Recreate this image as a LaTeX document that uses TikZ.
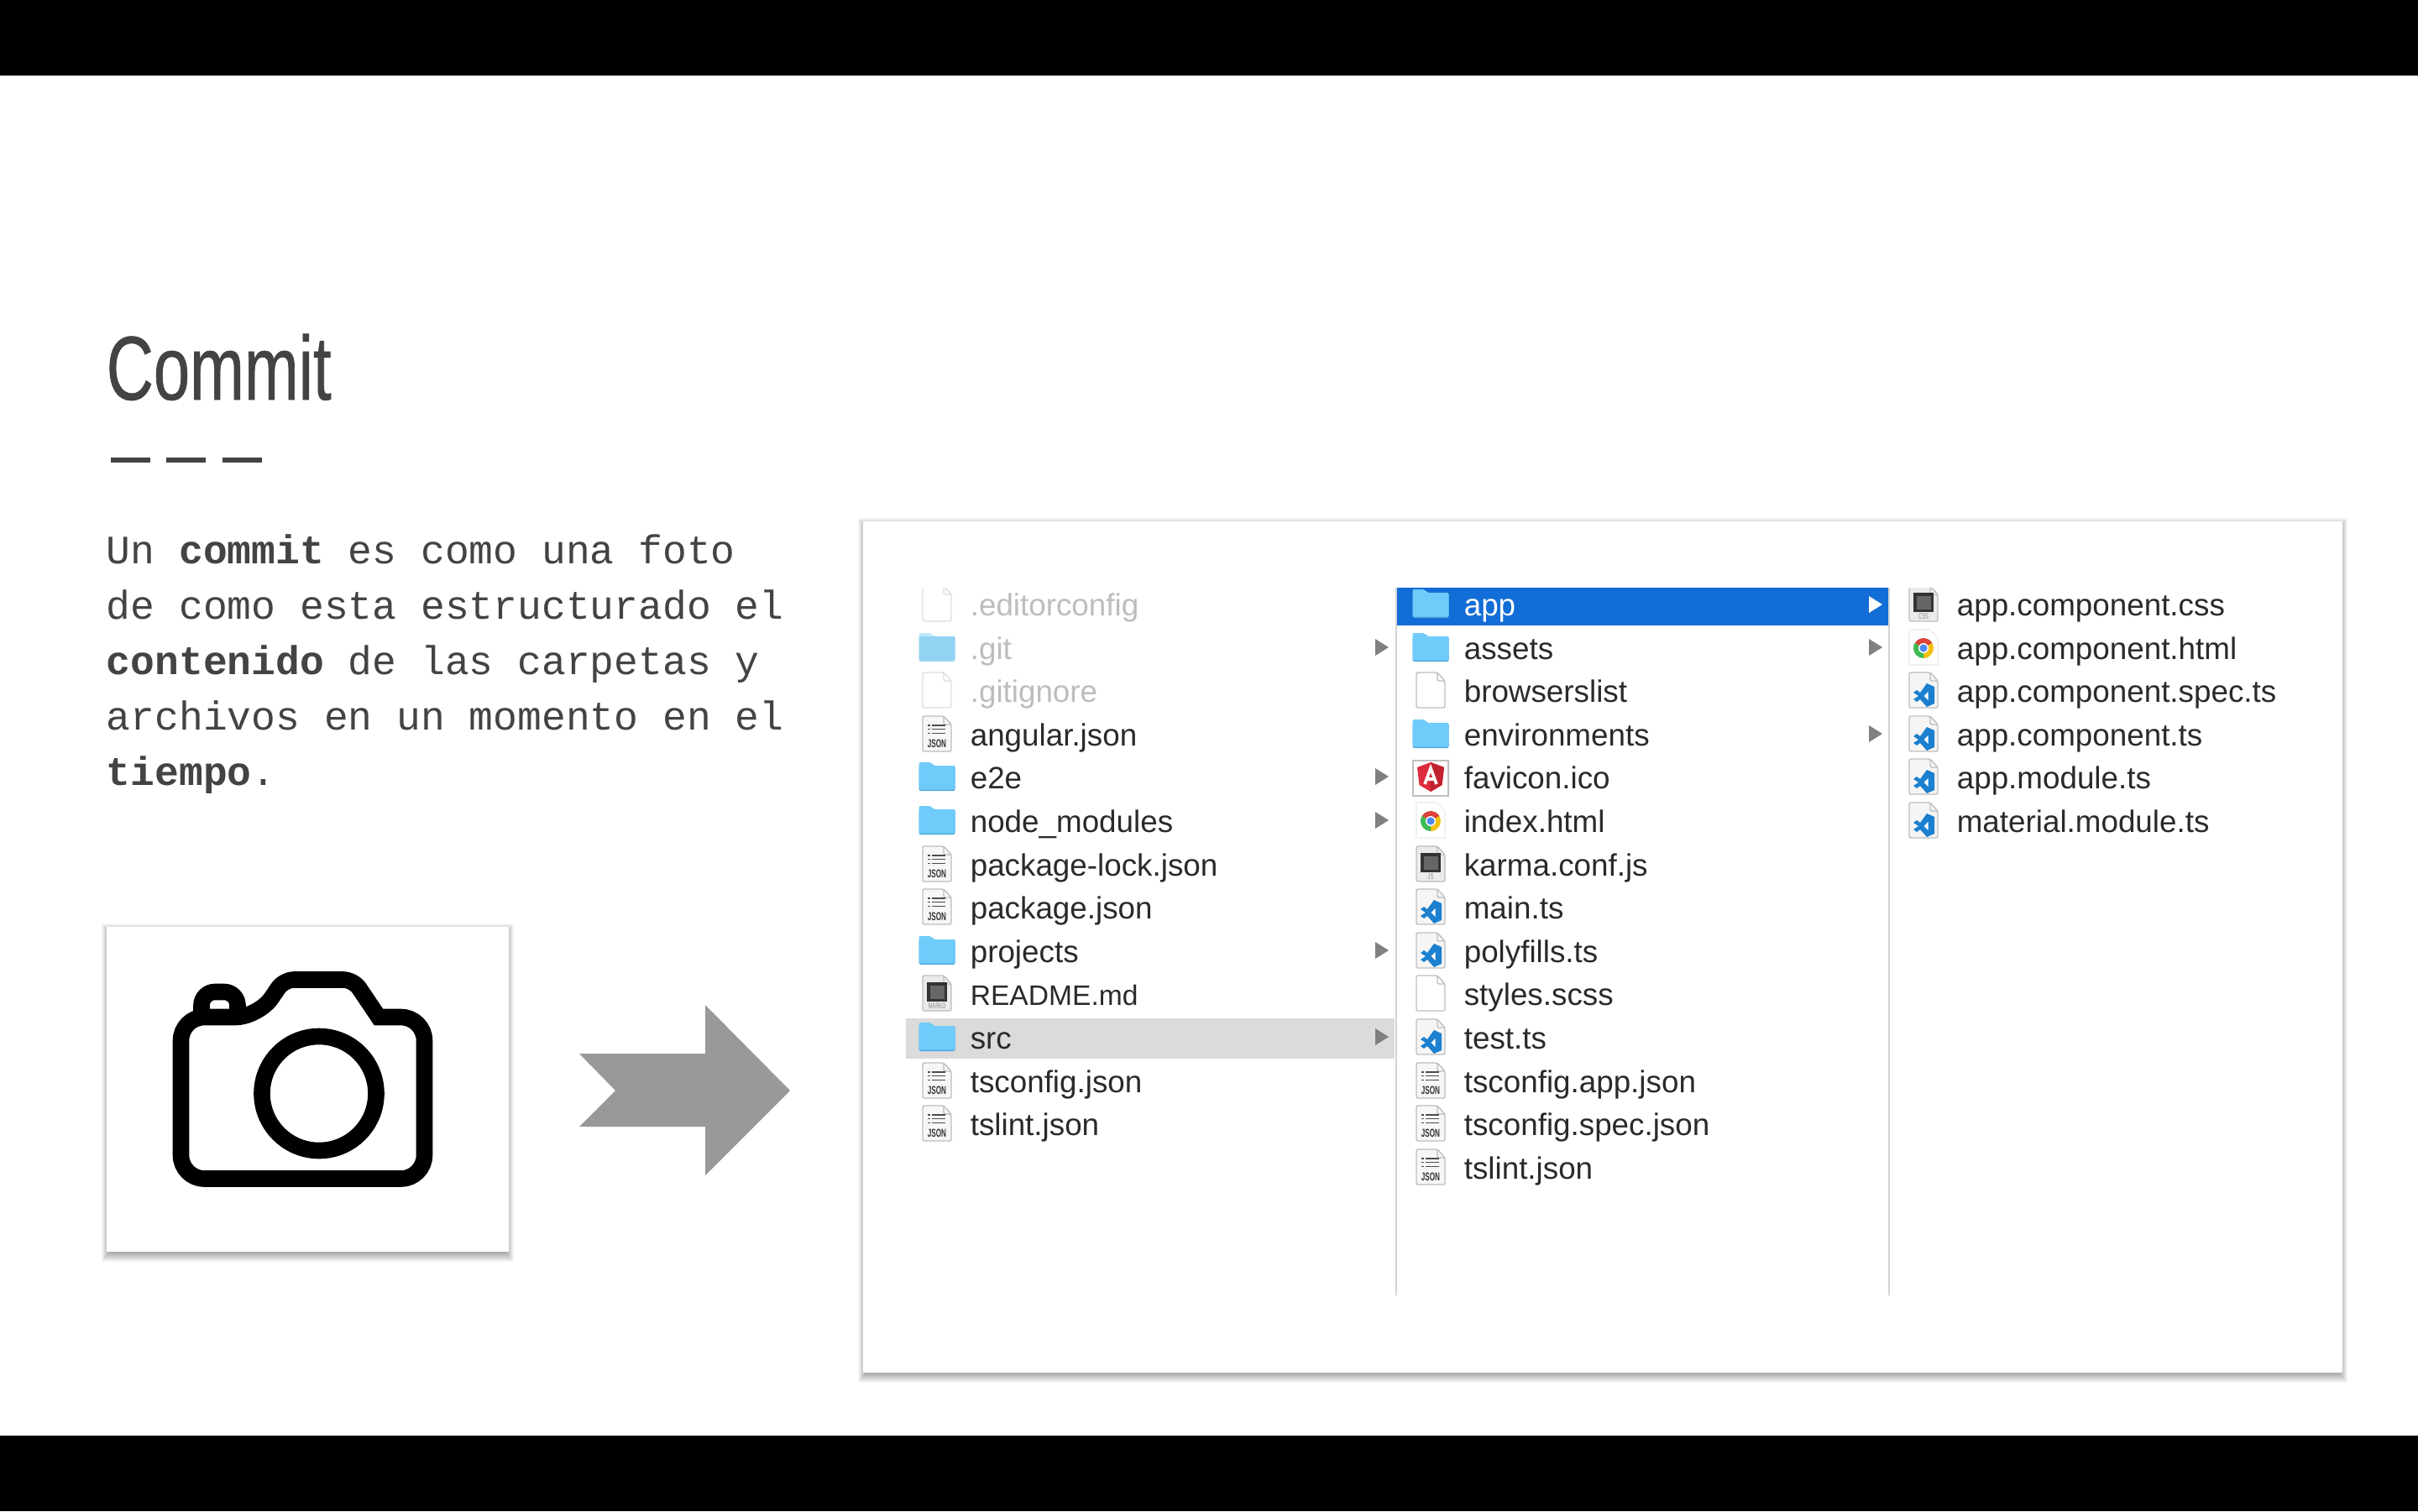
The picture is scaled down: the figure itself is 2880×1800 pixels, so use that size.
\documentclass[tikz,border=0pt]{standalone}
\usepackage{fontspec}
\setmainfont{Liberation Sans}
\setmonofont{Liberation Mono}
\newfontfamily\titlefont[FakeStretch=0.72, FakeBold=0.6]{Liberation Sans}
\newfontfamily\iconfont[FakeStretch=0.6]{Liberation Sans}

\definecolor{slategrey}{HTML}{434343}
\definecolor{arrowgrey}{HTML}{999999}
\definecolor{rowink}{HTML}{2A2A2A}
\definecolor{fadedink}{HTML}{BDBDBD}
\definecolor{folderblue}{HTML}{6FCBFA}
\definecolor{folderedge}{HTML}{4FA9DC}
\definecolor{pageedge}{HTML}{BEBEBE}
\definecolor{appblue}{HTML}{126DD6}
\definecolor{srcgrey}{HTML}{DBDBDB}
\definecolor{tsblue}{HTML}{1B80CF}
\definecolor{triangrey}{HTML}{808080}
\definecolor{shieldred}{HTML}{DD2C3C}
\definecolor{shielddark}{HTML}{C3212F}
\definecolor{chromered}{HTML}{DB4437}
\definecolor{chromeyellow}{HTML}{F4C20D}
\definecolor{chromegreen}{HTML}{3CBA54}
\definecolor{chromeblue}{HTML}{4A8AF4}

\newcommand{\softshadow}[4]{
  \foreach \d in {11,10,...,0}{
    \fill [black, opacity=.03] ({#1+3-\d*.8}, {#2+7-\d}) rectangle ({#3-3+\d*.8}, {#4+1+\d});
  }
}

\tikzset{
  rowtext/.style={anchor=base west, inner sep=0pt, text=rowink, font=\fontsize{9.2}{11}\selectfont},
  bodytext/.style={anchor=base west, inner sep=0pt, text=slategrey, font=\fontsize{12}{16.5}\ttfamily},
  camline/.style={draw=black, line width=4.9pt},
  pagepath/.style={insert path={(-17,-23) -- (8,-23) -- (17,-13) -- (17,19) -- (-17,19) -- cycle}},
  pagefold/.style={insert path={(8,-23) -- (8,-13) -- (17,-13)}},
  pageline/.style={draw=pageedge, line width=.35pt, rounded corners=.5pt},
  iconlabel/.style={inner sep=0pt, font=\fontsize{3}{3}\iconfont},
  folderpic/.pic={
    \fill [folderedge, rounded corners=.5pt] (-21.5,-15) rectangle (21.5,15);
    \fill [folderblue, rounded corners=.5pt] (-21.5,-19) -- (-7,-19) -- (-4,-15) -- (21.5,-15) -- (21.5,13.5) -- (-21.5,13.5) -- cycle;
  },
  blankpic/.pic={
    \draw [pageline, fill=white, pagepath];
    \draw [pageline, pagefold];
  },
  jsonpic/.pic={
    \draw [pageline, fill=black!3, pagepath];
    \draw [pageline, pagefold];
    \draw [black!70, line width=.35pt] (-6,-12) -- (10,-12) (-6,-7.5) -- (10,-7.5) (-6,-2.7) -- (10,-2.7);
    \draw [black!70, line width=.35pt] (-11,-12) -- (-8.5,-12) (-11,-7.5) -- (-8.5,-7.5) (-11,-2.7) -- (-8.5,-2.7);
    \node [iconlabel, text=black!80, font=\fontsize{3.4}{3.4}\iconfont\bfseries] (jsonlabel) at (0,10) {JSON};
  },
  darkpic/.pic={
    \draw [pageline, fill=black!8, pagepath];
    \draw [pageline, pagefold];
    \fill [black!80] (-12,-15) rectangle (12,8);
    \fill [black!60] (-8.5,-11.5) rectangle (8.5,4.5);
    \node [iconlabel, text=black!45, font=\fontsize{2.4}{3}\iconfont] (darklabel) at (0,13) {\tikzpictext};
  },
  tspic/.pic={
    \draw [pageline, fill=black!4, pagepath];
    \draw [pageline, pagefold];
    \fill [tsblue] (13,-6) -- (4,-10) -- (-4,1) -- (-8,-2) -- (-12,1) -- (-6,5) -- (-12,9) -- (-8,12) -- (-4,9) -- (4,18) -- (13,14) -- cycle;
    \fill [white] (5.5,0) -- (.5,5) -- (5.5,10) -- cycle;
  },
  chromepic/.pic={
    \draw [draw=black!8, line width=.3pt, fill=white, pagepath];
    \fill [chromered] (0,-1) -- ++(210:12) arc [start angle=210, end angle=330, radius=12] -- cycle;
    \fill [chromeyellow] (0,-1) -- ++(330:12) arc [start angle=330, end angle=450, radius=12] -- cycle;
    \fill [chromegreen] (0,-1) -- ++(90:12) arc [start angle=90, end angle=210, radius=12] -- cycle;
    \fill [white] (0,-1) circle (6);
    \fill [chromeblue] (0,-1) circle (4.6);
  },
  angularpic/.pic={
    \draw [draw=black!25, line width=.5pt, fill=white] (-21,-21) rectangle (21,21);
    \fill [shieldred] (0,-19) -- (16,-13) -- (13.5,8) -- (0,16) -- (-13.5,8) -- (-16,-13) -- cycle;
    \fill [shielddark] (0,-19) -- (16,-13) -- (13.5,8) -- (0,16) -- cycle;
    \draw [white, line width=.9pt] (-7,7) -- (0,-12) -- (7,7) (-4,1) -- (4,1);
  },
  rowtri/.pic={
    \fill [pic actions] (-8,-10) -- (8,0) -- (-8,10) -- cycle;
  }
}

\begin{document}
\begin{tikzpicture}[x=.25pt, y=-.25pt]
\useasboundingbox (0, 0) rectangle (2880, 1800);
\fill [white] (0, 0) rectangle (2880, 1800);
\fill [black] (0, 0) rectangle (2880, 90);
\fill [black] (0, 1710) rectangle (2880, 1800);

% heading
\node [anchor=base west, inner sep=0pt, text=slategrey, font=\fontsize{27}{30}\titlefont] (title) at (126, 476) {Commit};
\draw [slategrey, line width=1.6pt] (132, 548) -- (179, 548);
\draw [slategrey, line width=1.6pt] (198, 548) -- (245, 548);
\draw [slategrey, line width=1.6pt] (265, 548) -- (312, 548);

\node [bodytext] (lineone) at (126, 671) {Un \textbf{commit} es como una foto};
\node [bodytext] (linetwo) at (126, 737) {de como esta estructurado el};
\node [bodytext] (linethree) at (126, 803) {\textbf{contenido} de las carpetas y};
\node [bodytext] (linefour) at (126, 869) {archivos en un momento en el};
\node [bodytext] (linefive) at (126, 935) {\textbf{tiempo}.};

% camera card
\softshadow{127}{1104}{606}{1491}
\fill [white] (127, 1104) rectangle (606, 1491);
\draw [camline] (308, 1211.5) [rounded corners=3pt] -- (338, 1167) -- (421, 1167) [sharp corners] -- (451, 1211.5) [rounded corners=7pt] -- (505.5, 1211.5) -- (505.5, 1404) -- (215.5, 1404) -- (215.5, 1211.5) -- cycle;
\draw [camline, rounded corners=4pt] (240, 1208) -- (240, 1181.5) -- (283, 1181.5) -- (283, 1208);
\draw [camline] (380, 1302.5) circle (68);

% arrow
\fill [arrowgrey] (690, 1255) -- (840, 1255) -- (840, 1197) -- (941, 1299) -- (840, 1400) -- (840, 1342) -- (690, 1342) -- (733, 1299) -- cycle;

% finder window
\softshadow{1028}{621}{2790}{1635}
\fill [white] (1028, 621) rectangle (2790, 1635);
\fill [appblue] (1663, 700) rectangle (2249, 745);
\fill [srcgrey] (1079, 1213) rectangle (1661, 1261);
\draw [black!17, line width=.4pt] (1663, 700) -- (1663, 1543);
\draw [black!17, line width=.4pt] (2250, 700) -- (2250, 1543);

\begin{scope}
\clip (1040, 700) rectangle (2780, 1600);
% first column
\pic [opacity=.5] at (1116, 721) {blankpic};
\pic [opacity=.45] at (1116, 773) {folderpic};
\pic [opacity=.5] at (1116, 824) {blankpic};
\pic at (1116, 876) {jsonpic};
\pic at (1116, 927) {folderpic};
\pic at (1116, 979) {folderpic};
\pic at (1116, 1031) {jsonpic};
\pic at (1116, 1082) {jsonpic};
\pic at (1116, 1134) {folderpic};
\pic [pic text=MARKD] at (1116, 1185) {darkpic};
\pic at (1116, 1237) {folderpic};
\pic at (1116, 1289) {jsonpic};
\pic at (1116, 1340) {jsonpic};
% second column
\pic at (1704, 721) {folderpic};
\pic at (1704, 773) {folderpic};
\pic at (1704, 824) {blankpic};
\pic at (1704, 876) {folderpic};
\pic at (1704, 927) {angularpic};
\pic at (1704, 979) {chromepic};
\pic [pic text=JS] at (1704, 1031) {darkpic};
\pic at (1704, 1082) {tspic};
\pic at (1704, 1134) {tspic};
\pic at (1704, 1185) {blankpic};
\pic at (1704, 1237) {tspic};
\pic at (1704, 1289) {jsonpic};
\pic at (1704, 1340) {jsonpic};
\pic at (1704, 1392) {jsonpic};
% third column
\pic [pic text=CSS] at (2291, 721) {darkpic};
\pic at (2291, 773) {chromepic};
\pic at (2291, 824) {tspic};
\pic at (2291, 876) {tspic};
\pic at (2291, 927) {tspic};
\pic at (2291, 979) {tspic};
\end{scope}

\pic [triangrey] at (1646, 771) {rowtri};
\pic [triangrey] at (1646, 925) {rowtri};
\pic [triangrey] at (1646, 977) {rowtri};
\pic [triangrey] at (1646, 1132) {rowtri};
\pic [triangrey] at (1646, 1235) {rowtri};
\pic [white] at (2234, 720) {rowtri};
\pic [triangrey] at (2234, 771) {rowtri};
\pic [triangrey] at (2234, 874) {rowtri};

\node [rowtext, text=fadedink] (editorconfig) at (1155, 733) {.editorconfig};
\node [rowtext, text=fadedink] (gitdir) at (1155, 785) {.git};
\node [rowtext, text=fadedink] (gitignore) at (1155, 836) {.gitignore};
\node [rowtext] (angular) at (1155, 888) {angular.json};
\node [rowtext] (etwoe) at (1155, 939) {e2e};
\node [rowtext] (nodemodules) at (1155, 991) {node\_modules};
\node [rowtext] (packagelock) at (1155, 1043) {package-lock.json};
\node [rowtext] (package) at (1155, 1094) {package.json};
\node [rowtext] (projects) at (1155, 1146) {projects};
\node [rowtext, font=\fontsize{8.4}{11}\selectfont] (readme) at (1155, 1197) {README.md};
\node [rowtext] (src) at (1155, 1249) {src};
\node [rowtext] (tsconfig) at (1155, 1301) {tsconfig.json};
\node [rowtext] (tslint) at (1155, 1352) {tslint.json};

\node [rowtext, text=white] (app) at (1743, 733) {app};
\node [rowtext] (assets) at (1743, 785) {assets};
\node [rowtext] (browserslist) at (1743, 836) {browserslist};
\node [rowtext] (environments) at (1743, 888) {environments};
\node [rowtext] (favicon) at (1743, 939) {favicon.ico};
\node [rowtext] (index) at (1743, 991) {index.html};
\node [rowtext] (karma) at (1743, 1043) {karma.conf.js};
\node [rowtext] (main) at (1743, 1094) {main.ts};
\node [rowtext] (polyfills) at (1743, 1146) {polyfills.ts};
\node [rowtext] (styles) at (1743, 1197) {styles.scss};
\node [rowtext] (test) at (1743, 1249) {test.ts};
\node [rowtext] (tsconfigapp) at (1743, 1301) {tsconfig.app.json};
\node [rowtext] (tsconfigspec) at (1743, 1352) {tsconfig.spec.json};
\node [rowtext] (tslinttwo) at (1743, 1404) {tslint.json};

\node [rowtext] (compcss) at (2330, 733) {app.component.css};
\node [rowtext] (comphtml) at (2330, 785) {app.component.html};
\node [rowtext] (compspec) at (2330, 836) {app.component.spec.ts};
\node [rowtext] (compts) at (2330, 888) {app.component.ts};
\node [rowtext] (appmodule) at (2330, 939) {app.module.ts};
\node [rowtext] (materialmodule) at (2330, 991) {material.module.ts};
\end{tikzpicture}
\end{document}
